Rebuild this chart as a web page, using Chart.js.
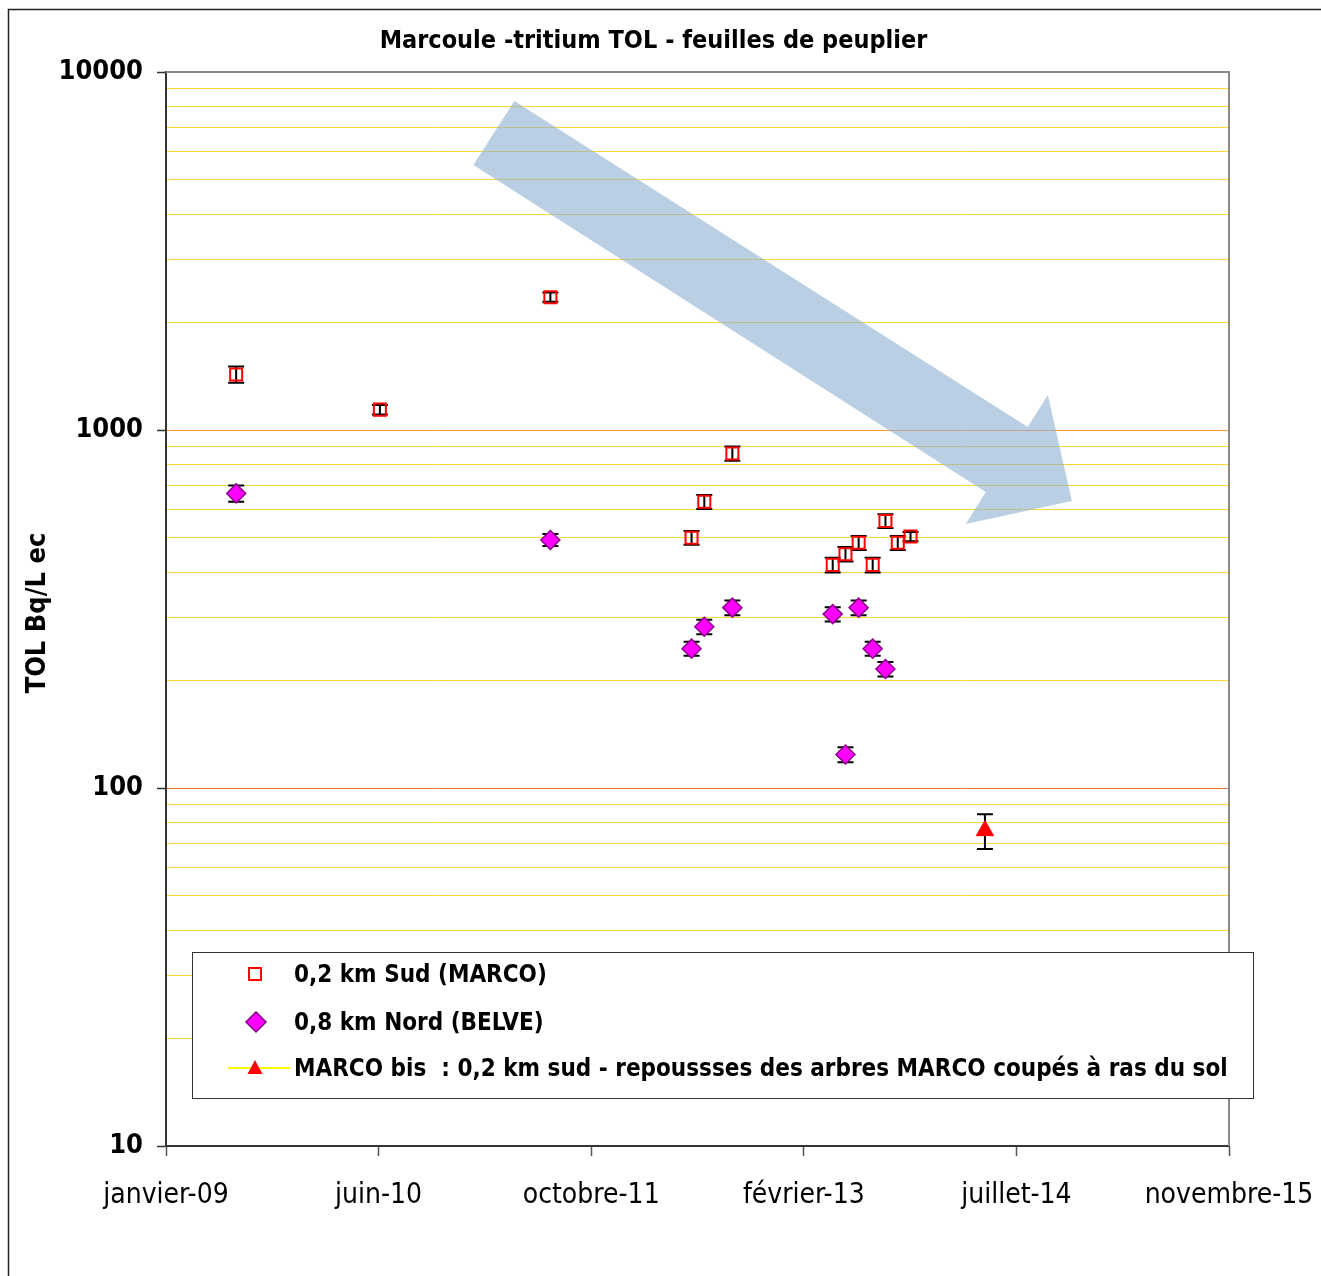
<!DOCTYPE html>
<html><head><meta charset="utf-8">
<script src="https://cdn.jsdelivr.net/npm/chart.js@4/dist/chart.umd.min.js"></script>
<style>html,body{margin:0;padding:0;background:#fff;overflow:hidden}</style>
</head><body>
<canvas id="c" width="1321" height="1276"></canvas>
<script>
const FONT = "'DejaVu Sans Condensed', 'DejaVu Sans', sans-serif";
const chartTitle = 'Marcoule -tritium TOL - feuilles de peuplier';
const yAxisTitle = 'TOL Bq/L ec';
const xTickLabels = ['janvier-09','juin-10','octobre-11','février-13','juillet-14','novembre-15'];
const xAxisStart = '2009-01-18';
const xAxisSpanDays = 2500;
const xTickStepDays = 500;
const yMin = 10, yMax = 10000;

const seriesNames = [
  '0,2 km Sud (MARCO)',
  '0,8 km Nord (BELVE)',
  'MARCO bis  : 0,2 km sud - repoussses des arbres MARCO coupés à ras du sol'
];

const marcoDates  = ['2009-07-02','2010-06-05','2011-07-11','2012-06-07','2012-07-07','2012-09-11','2013-05-05','2013-06-04','2013-07-05','2013-08-07','2013-09-06','2013-10-05','2013-11-04'];
const marcoValues = [1430,1140,2350,500,630,860,420,450,484,420,557,484,504];
const marcoErrors = [75,35,70,22,28,40,20,21,22,20,25,22,15];

const belveDates  = ['2009-07-02','2011-07-11','2012-06-07','2012-07-07','2012-09-11','2013-05-05','2013-06-04','2013-07-05','2013-08-07','2013-09-06'];
const belveValues = [665,493,245,282,319,306,124,319,245,215];
const belveErrors = [35,19,11,13,15,14,6,15,11,10];

const marcoBisDates  = ['2014-04-28'];
const marcoBisValues = [76];
const marcoBisErrors = [8.5];

// decorative trend arrow, as fractions of the plot area
const trendArrow = [[0.3277,0.0270],[0.8107,0.3305],[0.8296,0.3007],[0.8522,0.3994],[0.7524,0.4209],[0.7712,0.3911],[0.2891,0.0866]];

function dayOf(s){
  const [y,m,d] = s.split('-').map(Number);
  const [y0,m0,d0] = xAxisStart.split('-').map(Number);
  return (Date.UTC(y,m-1,d) - Date.UTC(y0,m0-1,d0)) / 86400000;
}
function pts(dates, vals){ return dates.map((d,i)=>({x:dayOf(d), y:vals[i]})); }

const gridValues = [];
for (let e = 1; e <= 3; e++) for (let s = 1; s <= 9; s++) gridValues.push(s * Math.pow(10, e));
gridValues.push(yMax);
const isPow10 = v => Math.abs(Math.log10(v) - Math.round(Math.log10(v))) < 1e-9;

const decor = {
  id: 'decor',
  beforeDraw(chart){
    const ctx = chart.ctx;
    ctx.save();
    ctx.fillStyle = '#fff';
    ctx.fillRect(0,0,chart.width,chart.height);
    ctx.strokeStyle = '#222'; ctx.lineWidth = 1.5;
    ctx.beginPath();
    ctx.moveTo(8.5, chart.height); ctx.lineTo(8.5, 9.5); ctx.lineTo(chart.width, 9.5);
    ctx.stroke();
    ctx.restore();
  },
  beforeDatasetsDraw(chart){
    const ctx = chart.ctx, a = chart.chartArea;
    const xs = chart.scales.x, ys = chart.scales.y;
    ctx.save();
    ctx.strokeStyle = '#8a8a8a'; ctx.lineWidth = 2;
    ctx.beginPath();
    ctx.moveTo(a.left, a.top); ctx.lineTo(a.right, a.top); ctx.lineTo(a.right, a.bottom);
    ctx.stroke();
    ctx.fillStyle = 'rgba(140,175,210,0.6)';
    ctx.beginPath();
    trendArrow.forEach(([fx,fy],i)=>{
      const px = a.left + fx*(a.right-a.left), py = a.top + fy*(a.bottom-a.top);
      if (i===0) ctx.moveTo(px,py); else ctx.lineTo(px,py);
    });
    ctx.closePath(); ctx.fill();
    ctx.strokeStyle = '#000'; ctx.lineWidth = 2;
    chart.data.datasets.forEach(ds=>{
      ds.data.forEach((p,i)=>{
        const e = ds.errors[i];
        const x = xs.getPixelForValue(p.x);
        const yt = ys.getPixelForValue(p.y + e), yb = ys.getPixelForValue(p.y - e);
        ctx.beginPath();
        ctx.moveTo(x, yt); ctx.lineTo(x, yb);
        ctx.moveTo(x-8, yt); ctx.lineTo(x+8, yt);
        ctx.moveTo(x-8, yb); ctx.lineTo(x+8, yb);
        ctx.stroke();
      });
    });
    ctx.restore();
  },
  afterDraw(chart){
    const ctx = chart.ctx;
    ctx.save();
    ctx.fillStyle = '#000';
    ctx.font = 'bold 25px ' + FONT;
    ctx.textAlign = 'center'; ctx.textBaseline = 'middle';
    ctx.fillText(chartTitle, 653.5, 41);
    ctx.save();
    ctx.font = 'bold 27px ' + FONT;
    ctx.translate(38, 613); ctx.rotate(-Math.PI/2);
    ctx.fillText(yAxisTitle, 0, 0);
    ctx.restore();
    ctx.fillStyle = '#fff';
    ctx.fillRect(192.5, 952.5, 1061, 146);
    ctx.strokeStyle = '#333'; ctx.lineWidth = 1;
    ctx.strokeRect(192.5, 952.5, 1061, 146);
    const rows = [974, 1022, 1068];
    ctx.strokeStyle = '#ff0000'; ctx.lineWidth = 2;
    ctx.strokeRect(249, rows[0]-6, 12, 12);
    ctx.beginPath();
    ctx.moveTo(256, rows[1]-10); ctx.lineTo(266, rows[1]); ctx.lineTo(256, rows[1]+10); ctx.lineTo(246, rows[1]); ctx.closePath();
    ctx.fillStyle = '#ff00ff'; ctx.fill();
    ctx.strokeStyle = '#800080'; ctx.lineWidth = 1.5; ctx.stroke();
    ctx.strokeStyle = '#ffff00'; ctx.lineWidth = 2;
    ctx.beginPath(); ctx.moveTo(228, rows[2]); ctx.lineTo(290, rows[2]); ctx.stroke();
    ctx.beginPath();
    ctx.moveTo(255, rows[2]-8); ctx.lineTo(262.5, rows[2]+6); ctx.lineTo(247.5, rows[2]+6); ctx.closePath();
    ctx.fillStyle = '#ff0000'; ctx.fill();
    ctx.fillStyle = '#000';
    ctx.font = 'bold 24px ' + FONT;
    ctx.textAlign = 'left'; ctx.textBaseline = 'middle';
    seriesNames.forEach((n,i)=> ctx.fillText(n, 294, rows[i] + 2));
    ctx.restore();
  }
};

new Chart(document.getElementById('c'), {
  type: 'scatter',
  data: {
    datasets: [
      { label: seriesNames[0], data: pts(marcoDates, marcoValues), errors: marcoErrors,
        pointStyle: 'rect', pointRadius: 8.5, borderColor: '#ff0000', backgroundColor: 'rgba(255,255,255,0)', borderWidth: 2 },
      { label: seriesNames[1], data: pts(belveDates, belveValues), errors: belveErrors,
        pointStyle: 'rectRot', pointRadius: 9.5, borderColor: '#8b008b', backgroundColor: '#ff00ff', borderWidth: 1.5 },
      { label: seriesNames[2], data: pts(marcoBisDates, marcoBisValues), errors: marcoBisErrors,
        showLine: true, borderColor: '#ffff00', pointStyle: 'triangle', pointRadius: 10,
        pointBackgroundColor: '#ff0000', pointBorderColor: '#ff0000', pointBorderWidth: 1 }
    ]
  },
  options: {
    responsive: false, animation: false, events: [],
    layout: { padding: { top: 72, right: 92, bottom: 0, left: 0 } },
    plugins: { legend: { display: false }, title: { display: false }, tooltip: { enabled: false } },
    scales: {
      x: {
        type: 'linear', min: 0, max: xAxisSpanDays,
        afterFit: s => { s.height = 130; s.paddingLeft = 0; s.paddingRight = 0; },
        ticks: { stepSize: xTickStepDays, autoSkip: false, maxRotation: 0, padding: 23,
          color: '#000', font: { family: FONT, size: 28 },
          callback: (v, i) => xTickLabels[i] },
        grid: { drawOnChartArea: false, tickLength: 10, tickColor: '#555', tickWidth: 1.5 },
        border: { color: '#333', width: 2 }
      },
      y: {
        type: 'logarithmic', min: yMin, max: yMax,
        afterFit: s => { s.width = 166; s.paddingTop = 0; s.paddingBottom = 0; },
        afterBuildTicks: s => { s.ticks = gridValues.map(v => ({ value: v, major: isPow10(v) })); },
        ticks: { autoSkip: false, padding: 14, color: '#000',
          font: { family: FONT, size: 27, weight: 'bold' },
          callback: v => isPow10(v) ? String(v) : '' },
        grid: {
          tickLength: 9, tickWidth: 1.5,
          tickColor: c => (c.tick && isPow10(c.tick.value)) ? '#333' : 'rgba(0,0,0,0)',
          color: c => {
            const v = c.tick ? c.tick.value : 0;
            if (v === yMax || v === yMin) return 'rgba(0,0,0,0)';
            if (v === 1000) return '#ff9933';
            if (v === 100) return '#e8703a';
            return '#ffd633';
          },
          lineWidth: 1
        },
        border: { color: '#333', width: 2 }
      }
    }
  },
  plugins: [decor]
});
</script>
</body></html>
